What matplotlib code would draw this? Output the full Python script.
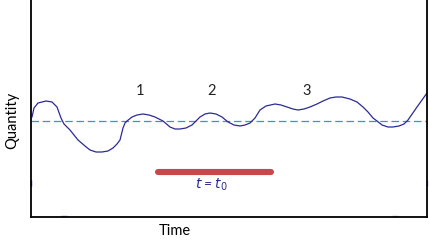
import matplotlib
matplotlib.use('Agg')
import matplotlib.pyplot as plt

# curve (time, quantity), baseline at quantity = 0
time = [1, 3, 7, 15, 21, 26, 30, 33, 39, 47, 54, 59, 65, 71, 77, 82, 86, 89, 92, 94,
        96, 101, 106, 112, 118, 124, 132, 139, 144, 149, 155, 161, 165, 169, 174, 179,
        185, 191, 197, 203, 209, 214, 219, 224, 229, 235, 244, 250, 256, 262, 267, 273,
        279, 286, 292, 299, 305, 311, 319, 326, 332, 337, 342, 346, 351, 357, 362, 368,
        373, 377, 386, 396]
quantity = [4, 13, 18, 20, 19, 14, 3, -3, -9, -19, -25, -29, -31, -31, -30, -27, -23, -19, -7, -2,
            0, 4, 6, 7, 6, 4, 0, -6, -8, -8, -7, -4, 0, 4, 7, 8,
            7, 4, -1, -4, -5, -4, -2, 3, 11, 15, 17, 16, 14, 12, 11, 12,
            14, 17, 20, 23, 24, 24, 22, 19, 14, 9, 3, 0, -4, -6, -6, -5,
            -3, 1, 14, 28]

labels = ['1', '2', '3']
label_time = [109, 181, 276]
label_q = 30
t0_start, t0_end, t0_q = 127, 240, -51

fig = plt.figure(figsize=(4.29, 2.42), dpi=100)
ax = fig.add_axes([31 / 429, 25 / 242, 396 / 429, 217 / 242])
ax.set_xlim(0, 396)
ax.set_ylim(-96, 121)

ax.axhline(0, color='#1f9fe0', lw=0.9, dashes=(6, 3))
ax.plot(time, quantity, color='#2a2a96', lw=0.9)

ax.plot([t0_start, t0_end], [t0_q, t0_q], color='#c8474a', lw=4.4,
        solid_capstyle='round')
ax.text(180, t0_q - 13, '$t$ = $t_0$', color='#2a2a96',
        ha='center', va='center', fontsize=10, family='Lato', style='italic')

for lab, tx in zip(labels, label_time):
    ax.text(tx, label_q, lab, ha='center', va='center', fontsize=10.5,
            family='Lato', color='#222222')

# little stray marks on the frame
ax.plot([0], [-62], marker='|', ms=4, color='#3030b0', clip_on=False)
ax.plot([396], [-62], marker='|', ms=4, color='#9090d0', clip_on=False)
ax.plot([33], [-95], marker='_', ms=4, color='#7070c0', clip_on=False)
ax.plot([364], [-95], marker='_', ms=4, color='#a0a0d8', clip_on=False)

ax.spines['top'].set_visible(False)
for s in ['left', 'bottom', 'right']:
    ax.spines[s].set_linewidth(1.3)
ax.set_xticks([])
ax.set_yticks([])

fig.text(12 / 429, 1 - 120 / 242, 'Quantity', rotation=90, ha='center',
         va='center', fontsize=10.5, family='Lato')
fig.text(175 / 429, 1 - 231 / 242, 'Time', ha='center', va='center',
         fontsize=10.5, family='Lato')

fig.savefig('out.png', dpi=100, facecolor='white')
